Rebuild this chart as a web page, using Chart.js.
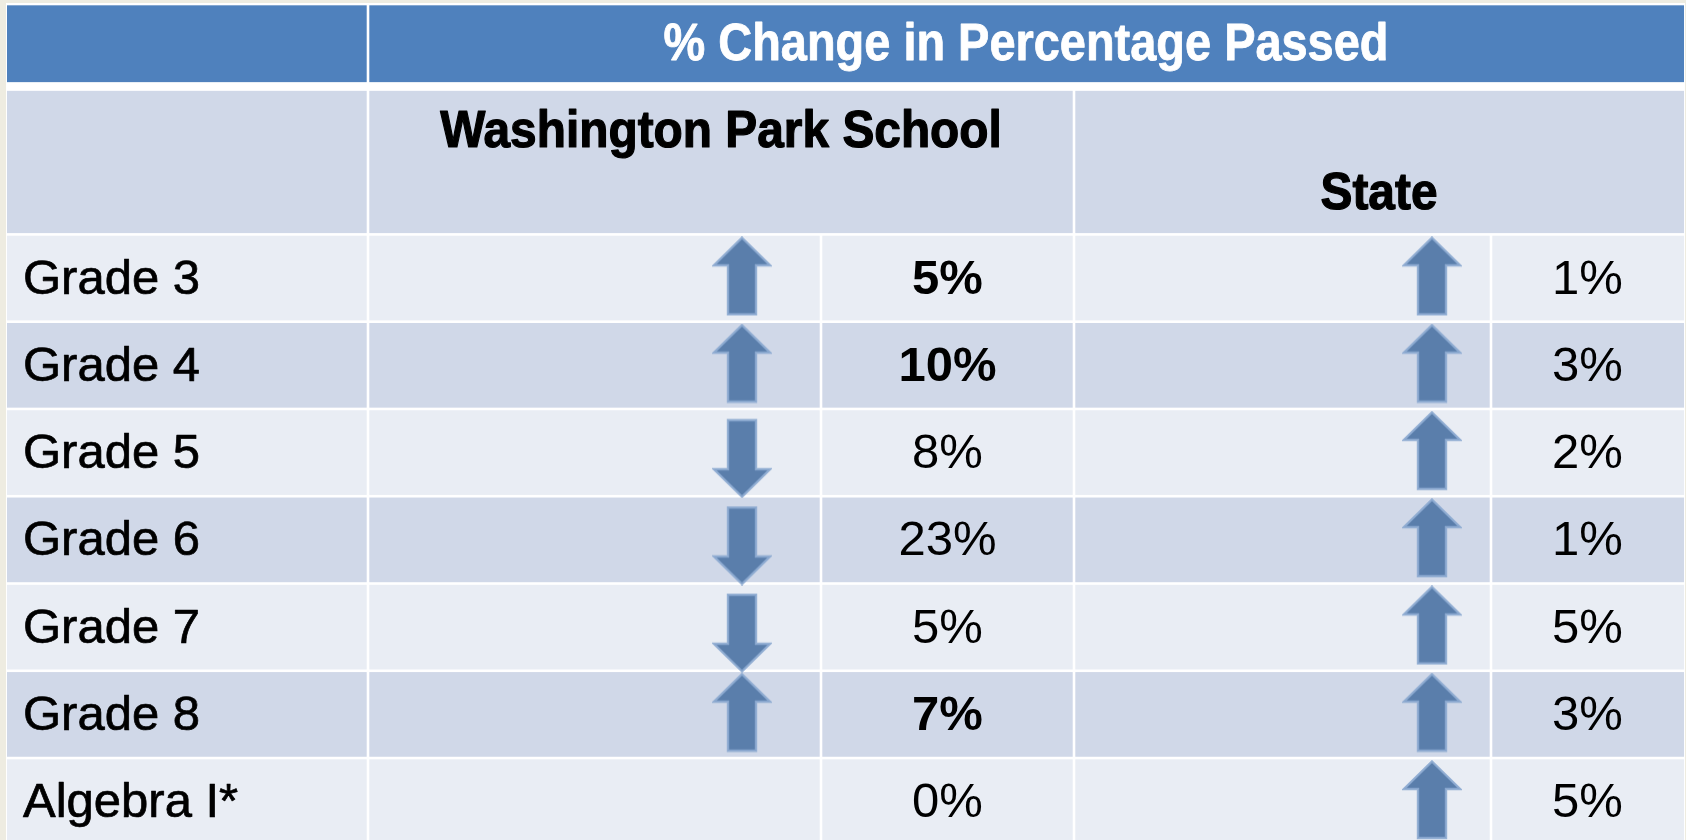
<!DOCTYPE html>
<html>
<head>
<meta charset="utf-8">
<script src="https://cdn.jsdelivr.net/npm/chart.js@4.4.1/dist/chart.umd.min.js"></script>
<style>
  html, body { margin: 0; padding: 0; background: #eeece1; overflow: hidden; }
  #wrap { width: 1686px; height: 840px; position: relative; }
</style>
</head>
<body>
<div id="wrap"><canvas id="tbl"></canvas></div>
<script>
// ── data ──
const title = '% Change in Percentage Passed';
const groups = ['Washington Park School', 'State'];
const categories = ['Grade 3', 'Grade 4', 'Grade 5', 'Grade 6', 'Grade 7', 'Grade 8', 'Algebra I*'];
const schoolChange = [5, 10, -8, -23, -5, 7, 0];
const stateChange = [1, 3, 2, 1, 5, 3, 5];
const schoolBold = [true, true, false, false, false, true, false];

// ── layout: x in page pixels, y in row units (row i spans i..i+1) ──
const COL_EDGES = [7, 368, 821, 1074, 1491, 1684];
const HEAD1 = [-2.64, -1.73];
const HEAD2 = [-1.66, 0];
const GAP = 1.3;
const SCHOOL_ARROW_X = 742;
const STATE_ARROW_X = 1432;
const UP_SHIFT = -0.02, DOWN_SHIFT = 0.065;
const HEAD_SQUEEZE = 0.92;   // fake a condensed heading face

const BLUE = '#4f81bd', DARK = '#d0d8e8', LIGHT = '#e9edf4';
const FONT = '"Liberation Sans", Arial, sans-serif';

// block arrow used as point style (rotated 180° for a drop)
function makeArrow() {
  const c = document.createElement('canvas');
  c.width = 60; c.height = 80;
  const g = c.getContext('2d');
  g.beginPath();
  g.moveTo(30, 1.5);
  g.lineTo(58, 29);
  g.lineTo(44, 29);
  g.lineTo(44, 78);
  g.lineTo(16, 78);
  g.lineTo(16, 29);
  g.lineTo(2, 29);
  g.closePath();
  g.fillStyle = '#5a7eab';
  g.fill();
  g.lineWidth = 2.4;
  g.strokeStyle = 'rgba(140,170,208,0.9)';
  g.stroke();
  return c;
}
const arrowImg = makeArrow();

function arrowData(values, x) {
  return values.map((v, i) => ({ x: x, y: i + 0.5 + (v < 0 ? DOWN_SHIFT : UP_SHIFT), v: v }));
}

const tablePlugin = {
  id: 'tableCells',
  beforeDatasetsDraw(chart) {
    const { ctx, scales: { x, y } } = chart;
    const px = v => x.getPixelForValue(v);
    const py = v => y.getPixelForValue(v);
    const cell = (c0, c1, r0, r1, color) => {
      const l = px(COL_EDGES[c0]) + (c0 === 0 ? 0 : GAP);
      const r = px(COL_EDGES[c1]) - (c1 === COL_EDGES.length - 1 ? 0 : GAP);
      const t = py(r0) + GAP, b = py(r1) - GAP;
      ctx.fillStyle = color;
      ctx.fillRect(l, t, r - l, b - t);
    };
    ctx.save();
    ctx.fillStyle = '#ffffff';
    ctx.fillRect(px(COL_EDGES[0]) - 1, py(HEAD1[0]) - 1, px(COL_EDGES[5]) - px(COL_EDGES[0]) + 2, chart.height);
    cell(0, 1, HEAD1[0], HEAD1[1], BLUE);
    cell(1, 5, HEAD1[0], HEAD1[1], BLUE);
    cell(0, 1, HEAD2[0], HEAD2[1], DARK);
    cell(1, 3, HEAD2[0], HEAD2[1], DARK);
    cell(3, 5, HEAD2[0], HEAD2[1], DARK);
    categories.forEach((_, i) => {
      const col = i % 2 === 0 ? LIGHT : DARK;
      for (let c = 0; c < 5; c++) cell(c, c + 1, i, i + 1, col);
    });
    ctx.restore();
  },
  afterDatasetsDraw(chart) {
    const { ctx, scales: { x, y } } = chart;
    const px = v => x.getPixelForValue(v);
    const py = v => y.getPixelForValue(v);
    // sx: horizontal scale, w: extra stroke weight
    const text = (s, cx, cy, font, color, align, sx, w) => {
      ctx.save();
      ctx.translate(cx, cy);
      ctx.scale(sx || 1, 1);
      ctx.font = font;
      ctx.fillStyle = color;
      ctx.textAlign = align || 'center';
      ctx.textBaseline = 'middle';
      ctx.fillText(s, 0, 0);
      if (w) {
        ctx.lineWidth = w;
        ctx.lineJoin = 'round';
        ctx.strokeStyle = color;
        ctx.strokeText(s, 0, 0);
      }
      ctx.restore();
    };
    text(title, px((COL_EDGES[1] + COL_EDGES[5]) / 2), py((HEAD1[0] + HEAD1[1]) / 2) + 2,
      'bold 51px ' + FONT, '#ffffff', 'center', HEAD_SQUEEZE, 0.8);
    text(groups[0], px((COL_EDGES[1] + COL_EDGES[3]) / 2), py(-1.23) + 6,
      'bold 52px ' + FONT, '#000000', 'center', HEAD_SQUEEZE, 1.2);
    text(groups[1], px((COL_EDGES[3] + COL_EDGES[5]) / 2), py(-0.526) + 6,
      'bold 52px ' + FONT, '#000000', 'center', HEAD_SQUEEZE, 1.2);
    categories.forEach((name, i) => {
      const cy = py(i + 0.5) + 2;
      text(name, px(COL_EDGES[0] + 16), cy, '49px ' + FONT, '#000000', 'left', 1, 0.7);
      text(Math.abs(schoolChange[i]) + '%', px((COL_EDGES[2] + COL_EDGES[3]) / 2), cy,
        (schoolBold[i] ? 'bold ' : '') + '49px ' + FONT, '#000000');
      text(Math.abs(stateChange[i]) + '%', px((COL_EDGES[4] + COL_EDGES[5]) / 2), cy,
        '49px ' + FONT, '#000000');
    });
  }
};

const arrowStyle = {
  showLine: false,
  pointStyle: arrowImg,
  pointRadius: c => (c.raw && c.raw.v !== 0 ? 30 : 0),
  pointRotation: c => (c.raw && c.raw.v < 0 ? 180 : 0),
  pointBackgroundColor: '#5a7eab',
  pointBorderWidth: 0,
  clip: false
};

new Chart(document.getElementById('tbl'), {
  type: 'scatter',
  data: {
    datasets: [
      Object.assign({ label: groups[0], data: arrowData(schoolChange, SCHOOL_ARROW_X) }, arrowStyle),
      Object.assign({ label: groups[1], data: arrowData(stateChange, STATE_ARROW_X) }, arrowStyle)
    ]
  },
  options: {
    responsive: true,
    maintainAspectRatio: false,
    animation: false,
    events: [],
    layout: { padding: 0, autoPadding: false },
    plugins: { legend: { display: false }, tooltip: { enabled: false } },
    scales: {
      x: { type: 'linear', display: false, min: 0, max: 1686 },
      y: { type: 'linear', display: false, min: -2.686, max: 6.939, reverse: true }
    }
  },
  plugins: [tablePlugin]
});
</script>
</body>
</html>
